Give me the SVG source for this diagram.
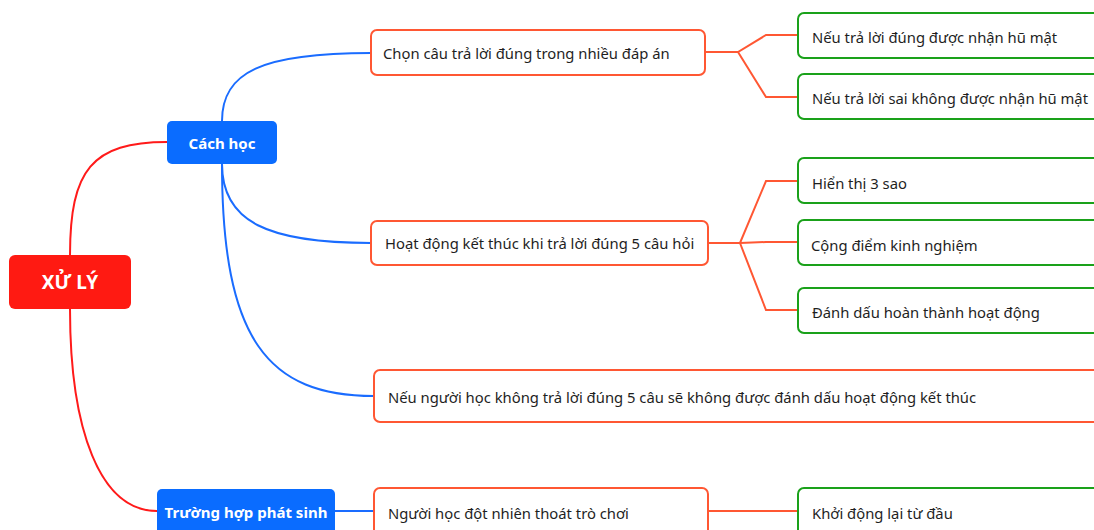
<svg xmlns="http://www.w3.org/2000/svg" width="1094" height="530" viewBox="0 0 1094 530">
<style>
text{font-family:"Noto Sans","Open Sans","Liberation Sans",sans-serif;}
.t{font-size:14.8px;fill:#1f1f1f;dominant-baseline:central;}
.w{fill:#fff;font-weight:bold;dominant-baseline:central;text-anchor:middle;}
.o{fill:#fff;stroke:#ff5733;stroke-width:2;}
.g{fill:#fff;stroke:#1aa11a;stroke-width:2;}
.c{fill:none;stroke-width:2;}
.r{stroke:#ff1a1a;}
.b{stroke:#1a6cff;}
.n{stroke:#ff5733;}
</style>
<rect width="1094" height="530" fill="#fff"/>
<g id="connectors">
<path class="c r" d="M70,255 C70,170 92,142 167,142"/>
<path class="c r" d="M70,309 C70,430 100,511 157,511"/>
<path class="c b" d="M222,121 C222,72 262,53 371,53"/>
<path class="c b" d="M222,164 C222,222 268,243 371,243"/>
<path class="c b" d="M222,164 C222,340 268,396 374,396"/>
<path class="c b" d="M335,511 L374,511"/>
<path class="c n" d="M705,52 L738,52 L766,35 L798,35 M738,52 L766,97 L798,97"/>
<path class="c n" d="M708,243 L740,243 L766,181 L798,181 M740,243 L766,242 L798,242 M740,243 L766,310 L798,310"/>
<path class="c n" d="M708,511 L798,511"/>
</g>
<g id="root"><rect x="9" y="255" width="122" height="54" rx="6" fill="#ff1a12"/><text class="w" x="70" y="282" font-size="19">XỬ LÝ</text></g>
<g id="cach-hoc"><rect x="167" y="121" width="110" height="43" rx="5" fill="#0a6cff"/><text class="w" x="222" y="142.5" font-size="15">Cách học</text></g>
<g id="truong-hop"><rect x="157" y="489" width="178" height="50" rx="5" fill="#0a6cff"/><text class="w" x="246" y="512" font-size="15">Trường hợp phát sinh</text></g>
<g id="chon-cau"><rect class="o" x="371" y="30" width="334" height="45" rx="6"/><text class="t" x="383" y="53">Chọn câu trả lời đúng trong nhiều đáp án</text></g>
<g id="hoat-dong"><rect class="o" x="371" y="221" width="337" height="44" rx="6"/><text class="t" x="385" y="243">Hoạt động kết thúc khi trả lời đúng 5 câu hỏi</text></g>
<g id="neu-nguoi-hoc"><rect class="o" x="374" y="370" width="730" height="52" rx="6"/><text class="t" x="388" y="397">Nếu người học không trả lời đúng 5 câu sẽ không được đánh dấu hoạt động kết thúc</text></g>
<g id="nguoi-hoc-dot-nhien"><rect class="o" x="374" y="488" width="334" height="52" rx="6"/><text class="t" x="388" y="513">Người học đột nhiên thoát trò chơi</text></g>
<g id="neu-dung"><rect class="g" x="798" y="13" width="306" height="45" rx="6"/><text class="t" x="812" y="37">Nếu trả lời đúng được nhận hũ mật</text></g>
<g id="neu-sai"><rect class="g" x="798" y="74" width="306" height="45" rx="6"/><text class="t" x="812" y="98">Nếu trả lời sai không được nhận hũ mật</text></g>
<g id="hien-thi"><rect class="g" x="798" y="158" width="306" height="45" rx="6"/><text class="t" x="812" y="183">Hiển thị 3 sao</text></g>
<g id="cong-diem"><rect class="g" x="798" y="220" width="306" height="45" rx="6"/><text class="t" x="811" y="245">Cộng điểm kinh nghiệm</text></g>
<g id="danh-dau"><rect class="g" x="798" y="288" width="306" height="45" rx="6"/><text class="t" x="812" y="312">Đánh dấu hoàn thành hoạt động</text></g>
<g id="khoi-dong"><rect class="g" x="798" y="488" width="306" height="52" rx="6"/><text class="t" x="812" y="513">Khởi động lại từ đầu</text></g>
</svg>
